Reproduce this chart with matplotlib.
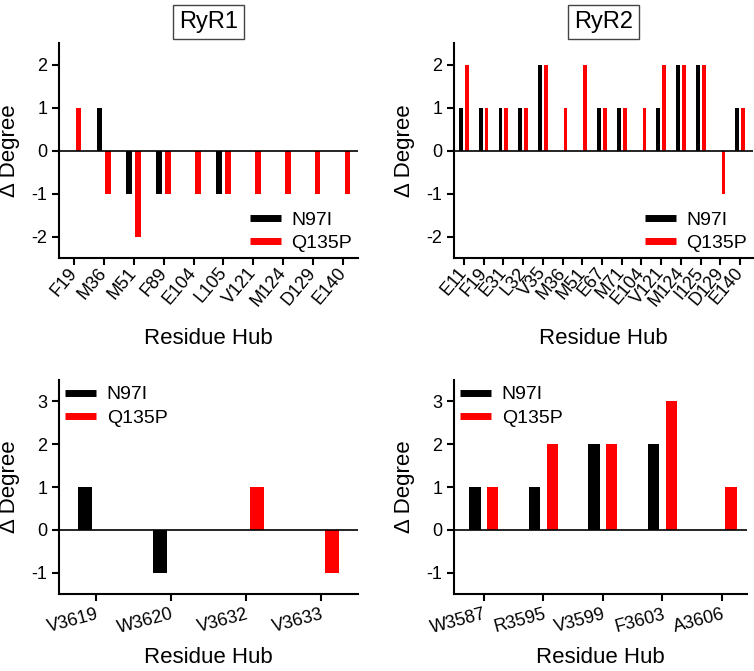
"""Delta degree of residue hubs for RyR1 / RyR2 binding, N97I vs Q135P."""

import matplotlib
matplotlib.use("Agg")
import matplotlib.pyplot as plt
from matplotlib.lines import Line2D
import numpy as np

plt.rcParams.update({
    "figure.dpi": 100,
    "font.family": ["Liberation Sans", "DejaVu Sans"],
    "font.size": 12,
    "axes.linewidth": 1.5,
    "axes.unicode_minus": False,
    "xtick.major.width": 1.5,
    "ytick.major.width": 1.5,
    "xtick.major.size": 5,
    "ytick.major.size": 5,
})

BLACK = "#000000"
RED = "#FF0000"

# top row: interactions with the RyR peptides
RYR1_RESIDUES = ["F19", "M36", "M51", "F89", "E104", "L105", "V121", "M124", "D129", "E140"]
RYR1_N97I = [0, 1, -1, -1, 0, -1, 0, 0, 0, 0]
RYR1_Q135P = [1, -1, -2, -1, -1, -1, -1, -1, -1, -1]

RYR2_RESIDUES = ["E11", "F19", "E31", "L32", "V35", "M36", "M51", "E67", "M71",
                 "E104", "V121", "M124", "I125", "D129", "E140"]
RYR2_N97I = [1, 1, 1, 1, 2, 0, 0, 1, 1, 0, 1, 2, 2, 0, 1]
RYR2_Q135P = [2, 1, 1, 1, 2, 1, 2, 1, 1, 1, 2, 2, 2, -1, 1]

# bottom row: RyR side hubs
RYR1_HUBS = ["V3619", "W3620", "V3632", "V3633"]
RYR1_HUB_N97I = [1, -1, 0, 0]
RYR1_HUB_Q135P = [0, 0, 1, -1]

RYR2_HUBS = ["W3587", "R3595", "V3599", "F3603", "A3606"]
RYR2_HUB_N97I = [1, 1, 2, 2, 0]
RYR2_HUB_Q135P = [1, 2, 2, 3, 1]


def draw_panel(ax, residues, n97i, q135p, ylim, yticks, rotation, xmax,
               legend_loc, legend_anchor):
    x = np.arange(len(residues))
    ax.bar(x - 0.15, n97i, width=0.19, color=BLACK)
    ax.bar(x + 0.15, q135p, width=0.19, color=RED)
    ax.axhline(0, color=BLACK, linewidth=1.2)

    ax.set_xlim(-0.5, xmax)
    ax.set_ylim(*ylim)
    ax.set_yticks(yticks)
    ax.set_xticks(x)
    ax.set_xticklabels(residues, rotation=rotation, ha="right",
                       rotation_mode="anchor", va="top" if rotation < 30 else "center")
    ax.spines["top"].set_visible(False)
    ax.spines["right"].set_visible(False)
    ax.tick_params(direction="out", labelsize=13)

    handles = [
        Line2D([], [], color=BLACK, linewidth=5, solid_capstyle="butt"),
        Line2D([], [], color=RED, linewidth=5, solid_capstyle="butt"),
    ]
    ax.legend(handles, ["N97I", "Q135P"], loc=legend_loc, bbox_to_anchor=legend_anchor,
              frameon=False, fontsize=14, handlelength=1.6, handletextpad=0.55,
              labelspacing=0.3, borderaxespad=0, borderpad=0.3)

    ax.set_ylabel("\u0394 Degree", fontsize=16)
    ax.set_xlabel("Residue Hub", fontsize=16, va="top")


def main():
    fig = plt.figure(figsize=(7.54, 6.71))
    W, H = 754, 671

    def add_axes(left, right, top, bottom):
        return fig.add_axes([left / W, 1 - bottom / H, (right - left) / W, (bottom - top) / H])

    ax_tl = add_axes(59, 358, 43, 258)
    ax_tr = add_axes(454, 753, 43, 258)
    ax_bl = add_axes(59, 358, 380, 594)
    ax_br = add_axes(454, 747, 380, 594)

    draw_panel(ax_tl, RYR1_RESIDUES, RYR1_N97I, RYR1_Q135P, (-2.5, 2.5),
               [-2, -1, 0, 1, 2], 50, 9.5, "lower right", (1.0, 0.0))
    draw_panel(ax_tr, RYR2_RESIDUES, RYR2_N97I, RYR2_Q135P, (-2.5, 2.5),
               [-2, -1, 0, 1, 2], 50, 14.65, "lower right", (1.0, 0.0))
    draw_panel(ax_bl, RYR1_HUBS, RYR1_HUB_N97I, RYR1_HUB_Q135P, (-1.5, 3.5),
               [-1, 0, 1, 2, 3], 15, 3.5, "upper left", (0.0, 1.0))
    draw_panel(ax_br, RYR2_HUBS, RYR2_HUB_N97I, RYR2_HUB_Q135P, (-1.5, 3.5),
               [-1, 0, 1, 2, 3], 15, 4.42, "upper left", (0.0, 1.0))

    # label positions, in pixels from the spines
    for ax, width, height, xlab_gap in [(ax_tl, 299, 215, 70), (ax_tr, 299, 215, 70),
                                        (ax_bl, 299, 214, 53), (ax_br, 293, 214, 53)]:
        ax.yaxis.set_label_coords(-39 / width, 0.5)
        ax.xaxis.set_label_coords(0.5, -xlab_gap / height)

    box = dict(boxstyle="square,pad=0.25", facecolor="white", edgecolor="#444444", linewidth=1)
    ax_tl.set_title("RyR1", fontsize=17, pad=11, bbox=box)
    ax_tr.set_title("RyR2", fontsize=17, pad=11, bbox=box)

    fig.savefig("out.png", dpi=100)
    plt.close()


if __name__ == "__main__":
    main()
